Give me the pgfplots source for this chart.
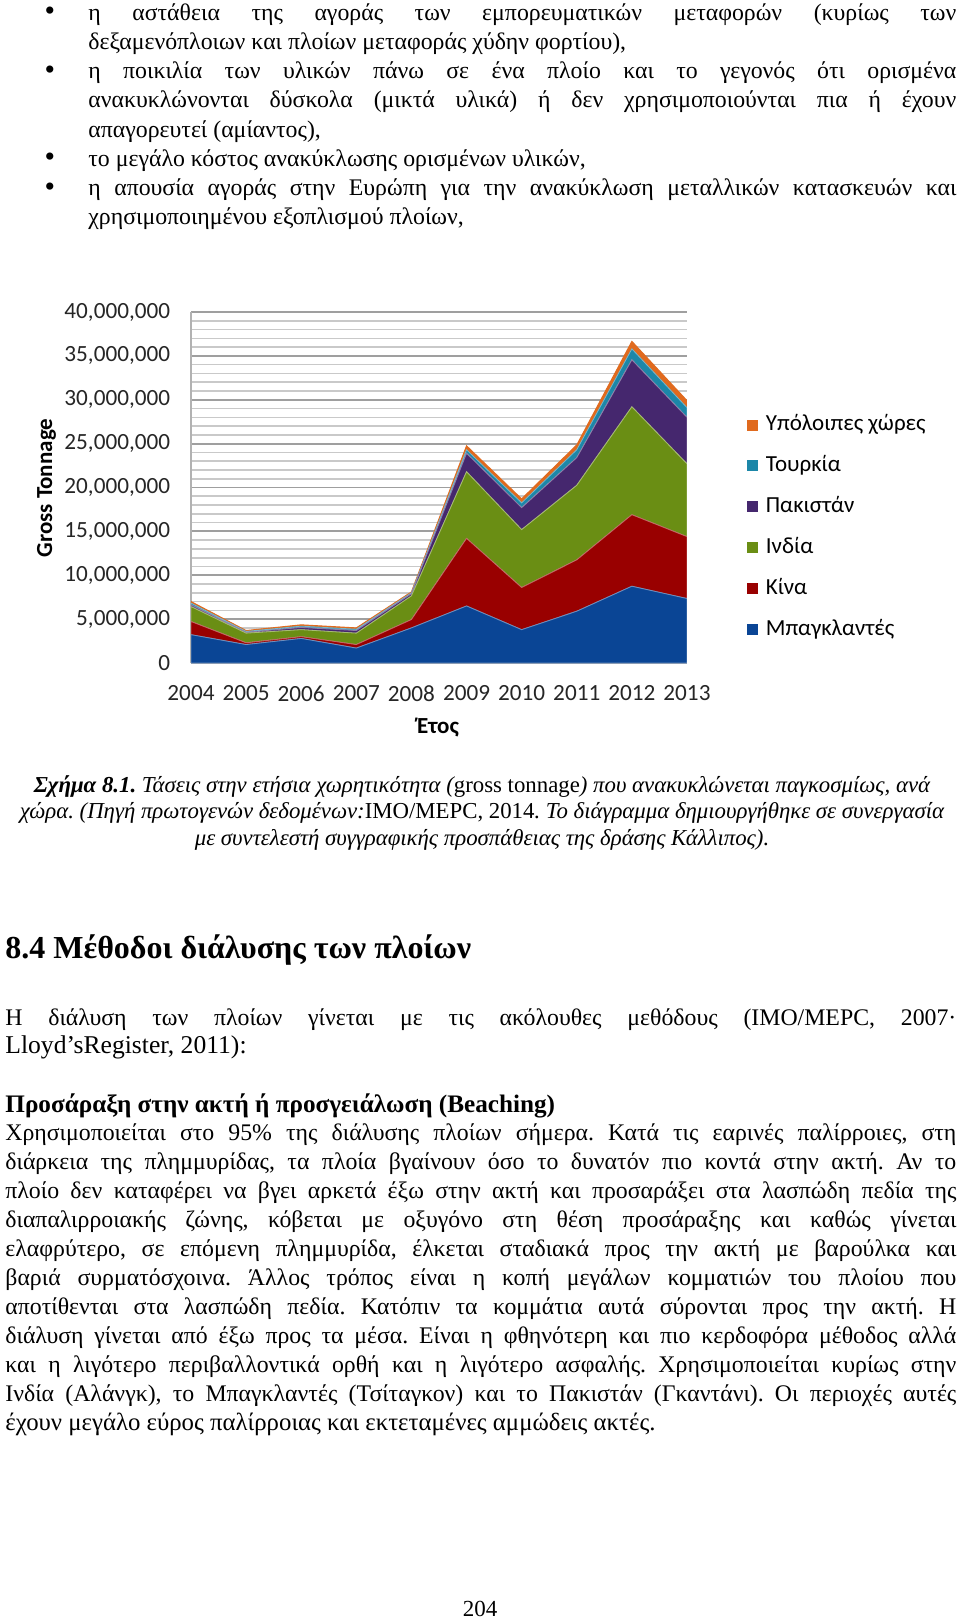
\documentclass[border=0pt]{standalone}
\usepackage{fontspec}
\usepackage{pgfplots}
\pgfplotsset{compat=1.18}
\setmainfont{Liberation Serif}
\newfontfamily\cf{Carlito}
\definecolor{cB}{HTML}{0A4595}
\definecolor{cC}{HTML}{990000}
\definecolor{cI}{HTML}{6A8E14}
\definecolor{cP}{HTML}{45276E}
\definecolor{cT}{HTML}{1C87A8}
\definecolor{cO}{HTML}{E06A1E}
\frenchspacing
\newcommand\bodyfont{\fontsize{11.9}{13}\selectfont\frenchspacing}
\newcommand\JL[4]{\node[anchor=base west,inner sep=0pt] at (#1pt,-#2pt) {\bodyfont\makebox[#3pt][s]{#4}};}
\newcommand\LL[3]{\node[anchor=base west,inner sep=0pt] at (#1pt,-#2pt) {\bodyfont #3};}
\newcommand\BU[1]{\node[anchor=base,inner sep=0pt] at (25pt,-#1pt) {\fontsize{15}{15}\selectfont\textbullet};}
\newcommand\CL[2]{\node[anchor=base,inner sep=0pt] at (241pt,-#1pt) {\fontsize{11.4}{12}\selectfont\frenchspacing\itshape #2};}
\begin{document}
\begin{tikzpicture}
\useasboundingbox (0,0) rectangle (480pt,-810.5pt);
\fill[white] (0,0) rectangle (480pt,-810.5pt);
% bullets
\BU{10.5}\BU{39.7}\BU{83.5}\BU{98.1}
\JL{44}{10.2}{434}{η αστάθεια της αγοράς των εμπορευματικών μεταφορών (κυρίως των}
\LL{44}{24.8}{δεξαμενόπλοιων και πλοίων μεταφοράς χύδην φορτίου),}
\JL{44}{39.4}{434}{η ποικιλία των υλικών πάνω σε ένα πλοίο και το γεγονός ότι ορισμένα}
\JL{44}{54}{434}{ανακυκλώνονται δύσκολα (μικτά υλικά) ή δεν χρησιμοποιούνται πια ή έχουν}
\LL{44}{68.6}{απαγορευτεί (αμίαντος),}
\LL{44}{83.2}{το μεγάλο κόστος ανακύκλωσης ορισμένων υλικών,}
\JL{44}{97.8}{434}{η απουσία αγοράς στην Ευρώπη για την ανακύκλωση μεταλλικών κατασκευών και}
\LL{44}{112.4}{χρησιμοποιημένου εξοπλισμού πλοίων,}

\begin{axis}[
  at={(95.5pt,-331.5pt)}, anchor=south west,
  width=248pt, height=175.5pt, scale only axis,
  xmin=2004, xmax=2013, ymin=0, ymax=40000000,
  stack plots=y,
  axis lines=left, axis line style={-, draw=gray!60, line width=0.8pt},
  xtick={2004,2005,2006,2007,2008,2009,2010,2011,2012,2013},
  xticklabels={2004,2005,2006,2007,2008,2009,2010,2011,2012,2013},
  ytick={0,5000000,10000000,15000000,20000000,25000000,30000000,35000000,40000000},
  minor y tick num=4,
  ymajorgrids, yminorgrids,
  major grid style={draw=gray!75, line width=0.9pt},
  minor grid style={draw=gray!42, line width=0.8pt},
  major tick length=0pt, minor tick length=0pt,
  scaled y ticks=false,
  yticklabel style={/pgf/number format/.cd, fixed, 1000 sep={,}, assume math mode=true},
  ticklabel style={font=\cf\fontsize{11.6}{12}\selectfont, inner sep=0pt, text=black!85},
  yticklabel shift=10.25pt,
  xticklabel shift=11pt,
  reverse legend,
  legend style={draw=none, fill=none, inner sep=0pt, row sep=9.97pt,
     at={(axis description cs:1.121,0.709)}, anchor=north west,
     font=\cf\fontsize{11.5}{12}\selectfont,
     nodes={inner sep=0pt, text height=8pt, text depth=2.5pt},
     /tikz/every odd column/.append style={column sep=3.75pt}},
  legend cell align=left,
  legend image code/.code={\fill[#1,draw=none] (0pt,-2.75pt) rectangle (5.5pt,2.75pt);},
]
\addplot[fill=cB, draw=cB!60!white, line width=0.4pt] coordinates {(2004,3230000) (2005,2100000) (2006,2800000) (2007,1700000) (2008,4000000) (2009,6500000) (2010,3800000) (2011,5900000) (2012,8750000) (2013,7350000)} \closedcycle;
\addplot[fill=cC, draw=cC!60!white, line width=0.4pt] coordinates {(2004,1500000) (2005,200000) (2006,200000) (2007,400000) (2008,950000) (2009,7700000) (2010,4800000) (2011,5850000) (2012,8150000) (2013,7050000)} \closedcycle;
\addplot[fill=cI, draw=cI!60!white, line width=0.4pt] coordinates {(2004,1700000) (2005,1100000) (2006,800000) (2007,1300000) (2008,2700000) (2009,7600000) (2010,6600000) (2011,8500000) (2012,12300000) (2013,8300000)} \closedcycle;
\addplot[fill=cP, draw=cP!60!white, line width=0.4pt] coordinates {(2004,200000) (2005,100000) (2006,250000) (2007,300000) (2008,250000) (2009,2100000) (2010,2500000) (2011,3150000) (2012,5350000) (2013,5300000)} \closedcycle;
\addplot[fill=cT, draw=cT!60!white, line width=0.4pt] coordinates {(2004,200000) (2005,100000) (2006,150000) (2007,150000) (2008,100000) (2009,400000) (2010,550000) (2011,900000) (2012,1250000) (2013,1100000)} \closedcycle;
\addplot[fill=cO, draw=cO, line width=0.5pt] coordinates {(2004,170000) (2005,100000) (2006,150000) (2007,150000) (2008,100000) (2009,450000) (2010,450000) (2011,550000) (2012,850000) (2013,800000)} \closedcycle;
\legend{Μπαγκλαντές,Κίνα,Ινδία,Πακιστάν,Τουρκία,Υπόλοιπες χώρες}
\end{axis}
\node[rotate=90, inner sep=0pt, font=\cf\bfseries\fontsize{11.5}{12}\selectfont] at (23.25pt,-244pt) {Gross Tonnage};
\node[inner sep=0pt, font=\cf\bfseries\fontsize{11.5}{12}\selectfont] at (219pt,-363.75pt) {Έτος};

% caption
\CL{396}{\textbf{Σχήμα 8.1.} Τάσεις στην ετήσια χωρητικότητα ({\upshape gross tonnage}) που ανακυκλώνεται παγκοσμίως, ανά}
\CL{409.25}{χώρα. (Πηγή πρωτογενών δεδομένων:{\upshape IMO/MEPC, 2014}. Το διάγραμμα δημιουργήθηκε σε συνεργασία}
\CL{422.5}{με συντελεστή συγγραφικής προσπάθειας της δράσης Κάλλιπος).}

% heading
\node[anchor=base west, inner sep=0pt, font=\fontsize{16}{18}\selectfont\bfseries] at (2.5pt,-479pt) {8.4 Μέθοδοι διάλυσης των πλοίων};
\JL{2.5}{512.5}{475.5}{Η διάλυση των πλοίων γίνεται με τις ακόλουθες μεθόδους (IMO/MEPC, 2007·}
\node[anchor=base west,inner sep=0pt] at (2.5pt,-526.5pt) {\fontsize{12.8}{13}\selectfont Lloyd’sRegister, 2011):};
\node[anchor=base west,inner sep=0pt] at (2.5pt,-556pt) {\fontsize{12.6}{13}\selectfont\bfseries Προσάραξη στην ακτή ή προσγειάλωση (Beaching)};
\JL{2.5}{570.3}{475.5}{Χρησιμοποιείται στο 95\% της διάλυσης πλοίων σήμερα. Κατά τις εαρινές παλίρροιες, στη}
\JL{2.5}{584.8}{475.5}{διάρκεια της πλημμυρίδας, τα πλοία βγαίνουν όσο το δυνατόν πιο κοντά στην ακτή. Αν το}
\JL{2.5}{599.3}{475.5}{πλοίο δεν καταφέρει να βγει αρκετά έξω στην ακτή και προσαράξει στα λασπώδη πεδία της}
\JL{2.5}{613.8}{475.5}{διαπαλιρροιακής ζώνης, κόβεται με οξυγόνο στη θέση προσάραξης και καθώς γίνεται}
\JL{2.5}{628.3}{475.5}{ελαφρύτερο, σε επόμενη πλημμυρίδα, έλκεται σταδιακά προς την ακτή με βαρούλκα και}
\JL{2.5}{642.8}{475.5}{βαριά συρματόσχοινα. Άλλος τρόπος είναι η κοπή μεγάλων κομματιών του πλοίου που}
\JL{2.5}{657.3}{475.5}{αποτίθενται στα λασπώδη πεδία. Κατόπιν τα κομμάτια αυτά σύρονται προς την ακτή. Η}
\JL{2.5}{671.8}{475.5}{διάλυση γίνεται από έξω προς τα μέσα. Είναι η φθηνότερη και πιο κερδοφόρα μέθοδος αλλά}
\JL{2.5}{686.3}{475.5}{και η λιγότερο περιβαλλοντικά ορθή και η λιγότερο ασφαλής. Χρησιμοποιείται κυρίως στην}
\JL{2.5}{700.8}{475.5}{Ινδία (Αλάνγκ), το Μπαγκλαντές (Τσίταγκον) και το Πακιστάν (Γκαντάνι). Οι περιοχές αυτές}
\node[anchor=base west,inner sep=0pt] at (2.5pt,-715.3pt) {\fontsize{12.4}{13}\selectfont έχουν μεγάλο εύρος παλίρροιας και εκτεταμένες αμμώδεις ακτές.};
\node[anchor=base, inner sep=0pt, font=\fontsize{11.5}{13}\selectfont] at (240pt,-808pt) {204};
\end{tikzpicture}
\end{document}
